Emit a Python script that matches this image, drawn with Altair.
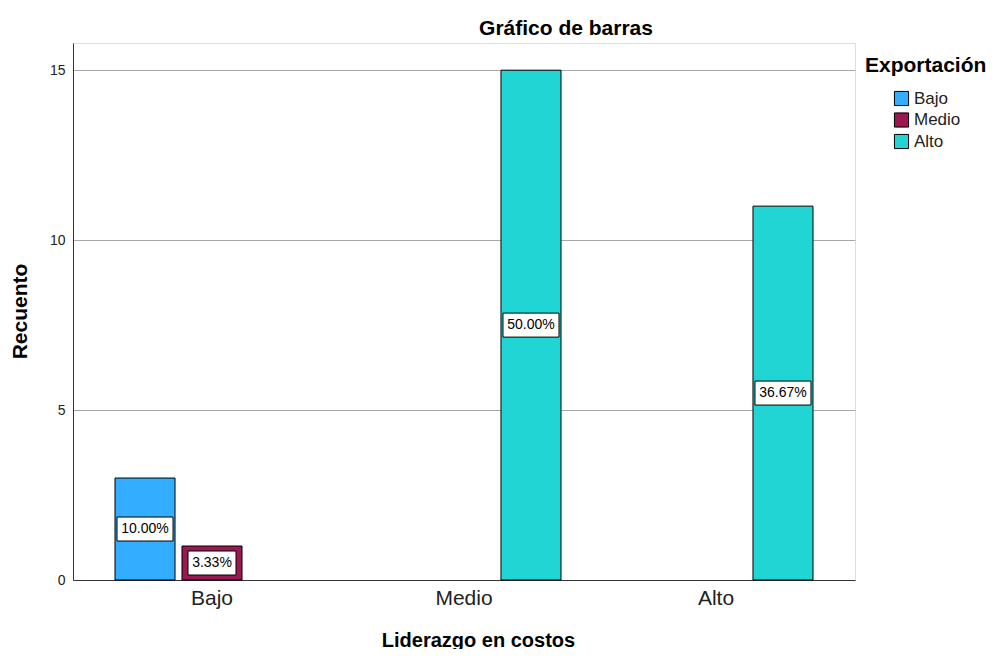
import altair as alt
import pandas as pd

# Data
lider = ["Bajo", "Bajo", "Medio", "Alto"]
export = ["Bajo", "Medio", "Alto", "Alto"]
counts = [3, 1, 15, 11]
labels = ["10.00%", "3.33%", "50.00%", "36.67%"]
cats = ["Bajo", "Medio", "Alto"]
colors = ["#33adff", "#9b1850", "#21d5d5"]
yticks = [0, 5, 10, 15]

df = pd.DataFrame({"lider": lider, "export": export, "count": counts, "label": labels})

FONT = "Liberation Sans"

x = alt.X(
    "lider:N", sort=cats,
    scale=alt.Scale(domain=cats, paddingOuter=0.0516, paddingInner=0),
    axis=alt.Axis(title="Liderazgo en costos", labelAngle=0, ticks=False,
                  labelFontSize=21, labelPadding=7, labelColor="#222",
                  labelFont=FONT, titleFont=FONT,
                  titleFontSize=20, titleFontWeight="bold", titleColor="black",
                  titleX=405, titleY=66, titleBaseline="alphabetic", titleAlign="center",
                  domainColor="#333", grid=False),
)
xo = alt.XOffset("export:N", sort=cats,
                 scale=alt.Scale(domain=cats, paddingInner=0.104, paddingOuter=0.433))


def ydef(field):
    return alt.Y(
        field,
        scale=alt.Scale(domain=[0, 15.8], nice=False),
        axis=alt.Axis(title="Recuento", values=yticks, ticks=False,
                      labelFontSize=14, labelPadding=8, labelColor="#222",
                      labelFont=FONT, titleFont=FONT,
                      titleFontSize=21, titleFontWeight="bold", titleColor="black",
                      titleX=-53, titleY=268, titleBaseline="middle", titleAlign="center",
                      titleAngle=270,
                      grid=True, gridColor="#a8a8a8", domainColor="#333"),
    )


bars = alt.Chart(df).mark_bar(stroke="black", strokeWidth=1).encode(
    x=x, xOffset=xo, y=ydef("count:Q"),
    fill=alt.Fill("export:N", sort=cats, scale=alt.Scale(domain=cats, range=colors),
                  legend=alt.Legend(title="Exportación", orient="none",
                                    legendX=792, legendY=12,
                                    titleFontSize=21, titleFontWeight="bold", titleFont=FONT,
                                    titleColor="black",
                                    labelFontSize=17, labelFont=FONT, labelColor="#222",
                                    symbolType="square", symbolSize=200,
                                    symbolStrokeColor="black", symbolStrokeWidth=1,
                                    symbolOffset=28, titlePadding=14, rowPadding=2.5,
                                    labelOffset=4)),
)

base = alt.Chart(df).transform_calculate(
    mid="datum.count / 2",
    w="length(datum.label) * 8 + 8",
).transform_calculate(
    sz="datum.w * datum.w",
    shp="'M-1,-' + (24 / datum.w) + 'H1V' + (24 / datum.w) + 'H-1Z'",
)

boxes = base.mark_point(filled=True, fill="white", stroke="black", strokeWidth=1, opacity=1).encode(
    x=x, xOffset=xo, y=ydef("mid:Q"),
    size=alt.Size("sz:Q", scale=None),
    shape=alt.Shape("shp:N", scale=None),
)

texts = base.mark_text(fontSize=14, font=FONT, color="black").encode(
    x=x, xOffset=xo, y=ydef("mid:Q"), text="label:N",
)

chart = alt.layer(bars, boxes, texts).properties(
    width=782, height=537,
    autosize="none",
    padding={"left": 65, "top": 35, "right": 133, "bottom": 69},
    title=alt.TitleParams("Gráfico de barras", font=FONT, fontSize=21, fontWeight="bold",
                          anchor="middle", dx=102, offset=4, color="black"),
).configure_view(stroke=None).configure(background="white")

chart.save("out.html", embed_options={"renderer": "svg", "actions": False})
